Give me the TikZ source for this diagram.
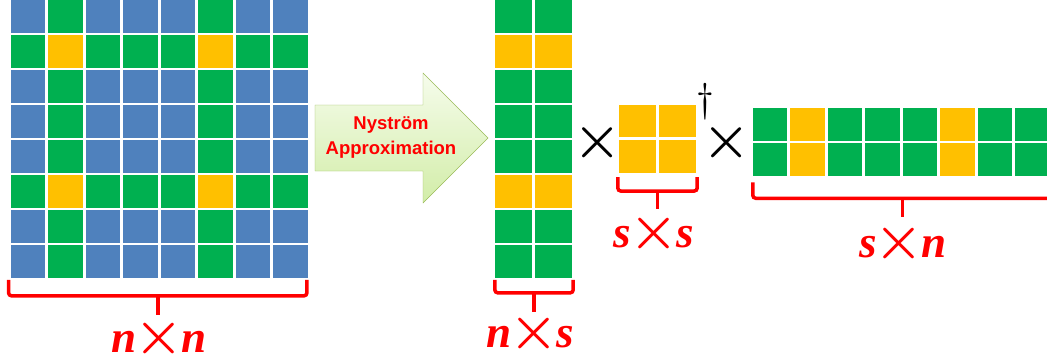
\documentclass[tikz,border=0pt]{standalone}
\usepackage{fontspec}
\setmainfont{Liberation Serif}
\setsansfont{Liberation Sans}
\newfontfamily\lmfont{Latin Modern Roman}
\usetikzlibrary{calc}
\usetikzlibrary{positioning}

\definecolor{cellblue}{HTML}{4F81BD}
\definecolor{cellgreen}{HTML}{00B050}
\definecolor{cellyellow}{HTML}{FFC000}
\definecolor{arrowedge}{HTML}{9BBB59}
\definecolor{arrowlight}{HTML}{F6FCEC}
\definecolor{arrowdark}{HTML}{D2EDA8}

\newcommand{\dimtext}[2]{\textbf{\textit{#1}}{\lmfont\bfseries\fontsize{56}{56}\selectfont\kern-2pt×\kern-2pt}\textbf{\textit{#2}}}

\begin{document}
\begin{tikzpicture}[x=1pt,y=-1pt,
cell/.style={rectangle,inner sep=0pt,minimum width=34.5pt,minimum height=32.7pt},
wide cell/.style={cell,minimum width=37pt},
brace/.style={draw=red,line width=3.5pt,rounded corners=3pt},
dimlabel/.style={text=red,anchor=base,inner sep=0pt,font=\fontsize{45}{45}\selectfont},
multsign/.style={inner sep=0pt,font=\lmfont\bfseries\fontsize{55}{55}\selectfont}]
\useasboundingbox (0,0) rectangle (1047,362);

% n x n
\foreach \i in {0,...,7}
    \foreach \j in {0,...,7} {
        \pgfmathtruncatemacro\k{(\i==1||\i==5)+(\j==1||\j==5)}
        \ifcase\k \def\cellcol{cellblue}\or \def\cellcol{cellgreen}\else \def\cellcol{cellyellow}\fi
        \node[cell,fill=\cellcol] (nn-\i-\j) at (28+37.5*\j,16.3+35*\i) {};
    }

% arrow
\shade[draw=arrowedge,top color=arrowlight,bottom color=arrowdark]
    (315,105) -- (423,105) -- (423,73) -- (488,138) -- (423,203) -- (423,171) -- (315,171) -- cycle;
\node[align=center,text=red,font=\sffamily\bfseries\fontsize{18.5}{25}\selectfont] (nys) at (391,138) {Nyström\\Approximation};

% n x s
\foreach \i in {0,...,7}
    \foreach \j in {0,1} {
        \pgfmathtruncatemacro\k{(\i==1||\i==5)}
        \ifcase\k \def\cellcol{cellgreen}\else \def\cellcol{cellyellow}\fi
        \node[wide cell,fill=\cellcol] (ns-\i-\j) at (513.5+40*\j,16.3+35*\i) {};
    }

% s x s
\foreach \i in {0,1}
    \foreach \j in {0,1}
        \node[wide cell,fill=cellyellow] (ss-\i-\j) at (637.5+40*\j,121+35.5*\i) {};

% s x n
\foreach \i in {0,1}
    \foreach \j in {0,...,7} {
        \pgfmathtruncatemacro\k{(\j==1||\j==5)}
        \ifcase\k \def\cellcol{cellgreen}\else \def\cellcol{cellyellow}\fi
        \node[cell,fill=\cellcol] (sn-\i-\j) at (770.2+37.5*\j,124.7+35*\i) {};
    }

\node[multsign] (mult1) at (598,143) {×};
\node[multsign] (mult2) at (727,143) {×};
\node[inner sep=0pt,font=\lmfont\fontsize{40}{40}\selectfont] (dag) at (705.5,102) {†};

% braces
\coordinate (nnl) at ($(nn-7-0.south west)+(-2,2)$);
\coordinate (nnr) at ($(nn-7-7.south east)+(-1,2)$);
\draw[brace] (nnl) -- ++(0,16) -| (nnr);
\draw[brace] ($(nnl)!0.5!(nnr)+(0,16)$) -- ++(0,19);
\node[dimlabel] (lnn) at (159,352) {\dimtext{n}{n}};

\coordinate (nsl) at ($(ns-7-0.south west)+(0,2)$);
\coordinate (nsr) at ($(ns-7-1.south east)+(1,2)$);
\draw[brace] (nsl) -- ++(0,13) -| (nsr);
\draw[brace] ($(nsl)!0.5!(nsr)+(0,13)$) -- ++(0,19);
\node[dimlabel] (lns) at (530,347) {\dimtext{n}{s}};

\coordinate (ssl) at ($(ss-1-0.south west)+(-1,4)$);
\coordinate (ssr) at ($(ss-1-1.south east)+(1,4)$);
\draw[brace] (ssl) -- ++(0,14) -| (ssr);
\draw[brace] ($(ssl)!0.5!(ssr)+(0,14)$) -- ++(0,18);
\node[dimlabel] (lss) at (654,247) {\dimtext{s}{s}};

\coordinate (snl) at ($(sn-1-0.south west)+(0,6)$);
\coordinate (snr) at ($(sn-1-7.south east)+(2,6)$);
\draw[brace] (snl) -- ++(0,16) -| (snr);
\draw[brace] ($(snl)!0.5!(snr)+(0,16)$) -- ++(0,19);
\node[dimlabel] (lsn) at (903,257) {\dimtext{s}{n}};
\end{tikzpicture}
\end{document}
